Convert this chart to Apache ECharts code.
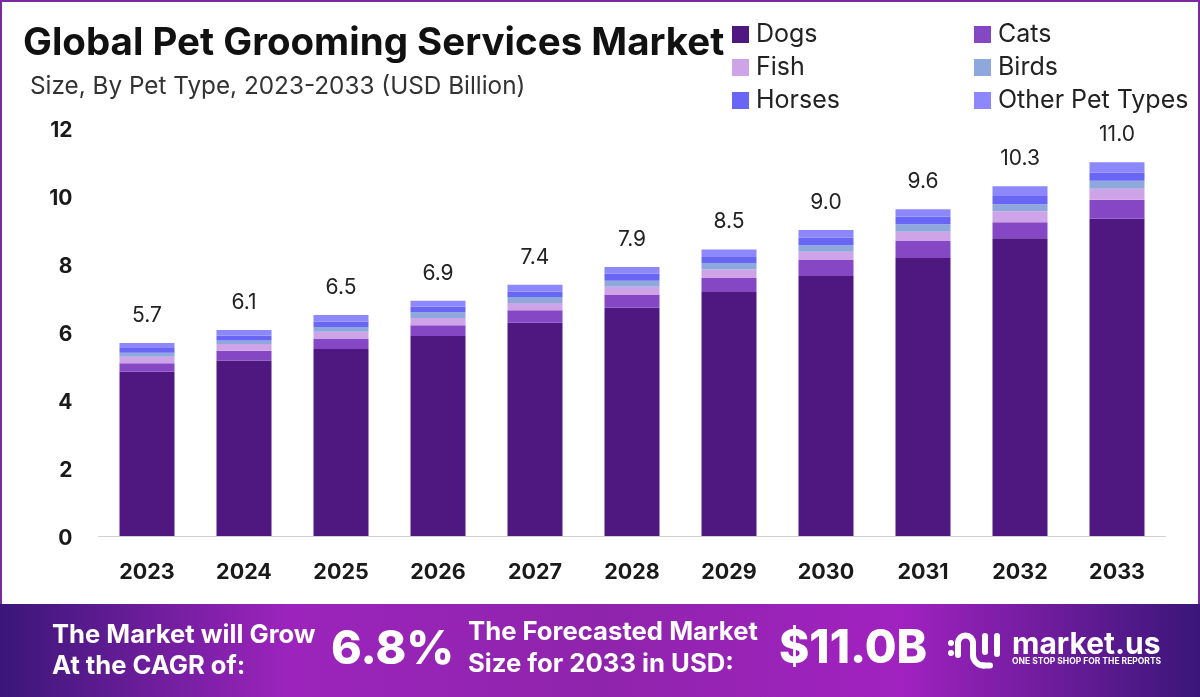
<!DOCTYPE html>
<html>
<head>
<meta charset="utf-8">
<title>Global Pet Grooming Services Market</title>
<script src="https://cdn.jsdelivr.net/npm/echarts@6/dist/echarts.min.js"></script>
<style>
  html, body { margin: 0; padding: 0; background: #fff; }
  #chart { width: 1200px; height: 697px; }
</style>
</head>
<body>
<div id="chart"></div>
<script>
// values
var years = ['2023', '2024', '2025', '2026', '2027', '2028', '2029', '2030', '2031', '2032', '2033'];
var totals = ['5.7', '6.1', '6.5', '6.9', '7.4', '7.9', '8.5', '9.0', '9.6', '10.3', '11.0'];
var dogs = [4.83, 5.16, 5.50, 5.88, 6.27, 6.71, 7.18, 7.65, 8.18, 8.76, 9.33];
var cats = [0.25, 0.29, 0.31, 0.32, 0.37, 0.38, 0.41, 0.47, 0.50, 0.47, 0.56];
var fish = [0.19, 0.20, 0.20, 0.21, 0.21, 0.24, 0.25, 0.24, 0.27, 0.32, 0.32];
var birds = [0.12, 0.10, 0.14, 0.18, 0.18, 0.18, 0.19, 0.19, 0.22, 0.21, 0.24];
var horses = [0.14, 0.15, 0.15, 0.16, 0.16, 0.20, 0.20, 0.22, 0.22, 0.24, 0.24];
var otherTypes = [0.15, 0.16, 0.20, 0.17, 0.20, 0.20, 0.20, 0.23, 0.22, 0.29, 0.30];
var yTicks = [0, 2, 4, 6, 8, 10, 12];

var font = 'Inter, "Open Sans", sans-serif';

function barSeries(name, data, color) {
  return {
    name: name,
    type: 'bar',
    stack: 'total',
    barWidth: 55,
    data: data,
    itemStyle: { color: color }
  };
}

var series = [
  barSeries('Dogs', dogs, '#4f1780'),
  barSeries('Cats', cats, '#8647c5'),
  barSeries('Fish', fish, '#cfa3e8'),
  barSeries('Birds', birds, '#8fa8dc'),
  barSeries('Horses', horses, '#6a66f5'),
  barSeries('Other Pet Types', otherTypes, '#8c87fa')
];
// totals sit on top of the last stacked piece
series[5].label = {
  show: true,
  position: 'top',
  distance: 17,
  fontFamily: font,
  fontSize: 21,
  color: '#222',
  formatter: function (p) { return totals[p.dataIndex]; }
};

function legendCol(left, names) {
  return {
    left: left,
    top: 17,
    orient: 'vertical',
    icon: 'rect',
    itemWidth: 17,
    itemHeight: 17,
    itemGap: 8,
    data: names,
    textStyle: { fontFamily: font, fontSize: 25, color: '#222', padding: [0, 0, 0, 2] }
  };
}

function bannerText(x, y, text, size, shadow) {
  return {
    type: 'text',
    x: x,
    y: y,
    style: {
      text: text,
      fill: '#fff',
      fontFamily: font,
      fontWeight: shadow ? 800 : 'bold',
      fontSize: size,
      verticalAlign: 'middle',
      shadowColor: shadow ? 'rgba(40,0,70,0.7)' : 'transparent',
      shadowBlur: shadow ? 5 : 0,
      shadowOffsetX: shadow ? 2 : 0,
      shadowOffsetY: shadow ? 3 : 0
    }
  };
}

var logoStyle = { fill: 'none', stroke: '#fff', lineWidth: 6, lineCap: 'round' };

function logoLine(x1, y1, x2, y2) {
  return { type: 'line', shape: { x1: x1, y1: y1, x2: x2, y2: y2 }, style: logoStyle };
}

function logoArc(cx, cy, r, start, end, clockwise) {
  return {
    type: 'arc',
    shape: { cx: cx, cy: cy, r: r, startAngle: start, endAngle: end, clockwise: clockwise },
    style: logoStyle
  };
}

function logoDot(cx, cy) {
  return { type: 'circle', shape: { cx: cx, cy: cy, r: 3 }, style: { fill: '#fff' } };
}

var graphics = [
  // frame
  {
    type: 'rect',
    shape: { x: 1, y: 1, width: 1198, height: 695 },
    style: { fill: 'none', stroke: '#7b2a9e', lineWidth: 2 }
  },
  // banner
  {
    type: 'rect',
    shape: { x: 0, y: 604, width: 1200, height: 93 },
    style: {
      fill: new echarts.graphic.LinearGradient(0, 0, 1, 0, [
        { offset: 0, color: '#3a1678' },
        { offset: 0.24, color: '#9c24bc' },
        { offset: 0.5, color: '#8f24ac' },
        { offset: 0.75, color: '#a122c0' },
        { offset: 1, color: '#3a1678' }
      ])
    }
  },
  bannerText(52, 635, 'The Market will Grow', 25.6, false),
  bannerText(52, 666, 'At the CAGR of:', 25.6, false),
  bannerText(331, 650, '6.8%', 46.5, true),
  bannerText(468, 632, 'The Forecasted Market', 25.7, false),
  bannerText(468, 664, 'Size for 2033 in USD:', 25.7, false),
  bannerText(779, 649, '$11.0B', 46, true),
  bannerText(1012, 645, 'market.us', 30, false),
  {
    type: 'text',
    x: 1012,
    y: 661,
    style: {
      text: 'ONE STOP SHOP FOR THE REPORTS',
      fill: '#fff',
      fontFamily: font,
      fontWeight: 'bold',
      fontSize: 8.5,
      verticalAlign: 'middle'
    }
  },
  // logo mark
  logoDot(951, 643),
  logoDot(951, 653),
  logoLine(958, 655, 958, 643),
  logoArc(965.5, 643, 7.5, Math.PI, Math.PI * 2, true),
  logoLine(973, 643, 973, 655),
  logoArc(983.5, 655, 10.5, Math.PI, Math.PI / 2, false),
  logoLine(983.5, 665.5, 990, 665.5),
  logoLine(985, 636, 985, 652),
  logoLine(997, 636, 997, 654)
];

var option = {
  animation: false,
  backgroundColor: '#fff',
  title: [
    {
      text: 'Global Pet Grooming Services Market',
      left: 18,
      top: 19,
      textStyle: { fontFamily: font, fontWeight: 'bold', fontSize: 38.5, color: '#111' }
    },
    {
      text: 'Size, By Pet Type, 2023-2033 (USD Billion)',
      left: 25,
      top: 70,
      textStyle: { fontFamily: font, fontWeight: 'normal', fontSize: 24.3, color: '#333' }
    }
  ],
  legend: [
    legendCol(727, ['Dogs', 'Fish', 'Horses']),
    legendCol(969, ['Cats', 'Birds', 'Other Pet Types'])
  ],
  grid: { left: 98.5, right: 34.5, top: 128, bottom: 161 },
  xAxis: {
    type: 'category',
    data: years,
    axisLine: { lineStyle: { color: '#d0d0d0' } },
    axisTick: { show: false },
    axisLabel: { margin: 26, fontFamily: font, fontWeight: 'bold', fontSize: 21.5, color: '#1a1a1a' }
  },
  yAxis: {
    type: 'value',
    min: yTicks[0],
    max: yTicks[yTicks.length - 1],
    interval: yTicks[1] - yTicks[0],
    splitLine: { show: false },
    axisLine: { show: false },
    axisTick: { show: false },
    axisLabel: {
      margin: 26,
      formatter: '{v|{value}}',
      rich: {
        v: { padding: [5, 0, 0, 0], fontFamily: font, fontWeight: 'bold', fontSize: 21, color: '#1a1a1a' }
      }
    }
  },
  series: series,
  graphic: { elements: graphics }
};

var chart = echarts.init(document.getElementById('chart'), null, { renderer: 'canvas' });
chart.setOption(option);
</script>
</body>
</html>
